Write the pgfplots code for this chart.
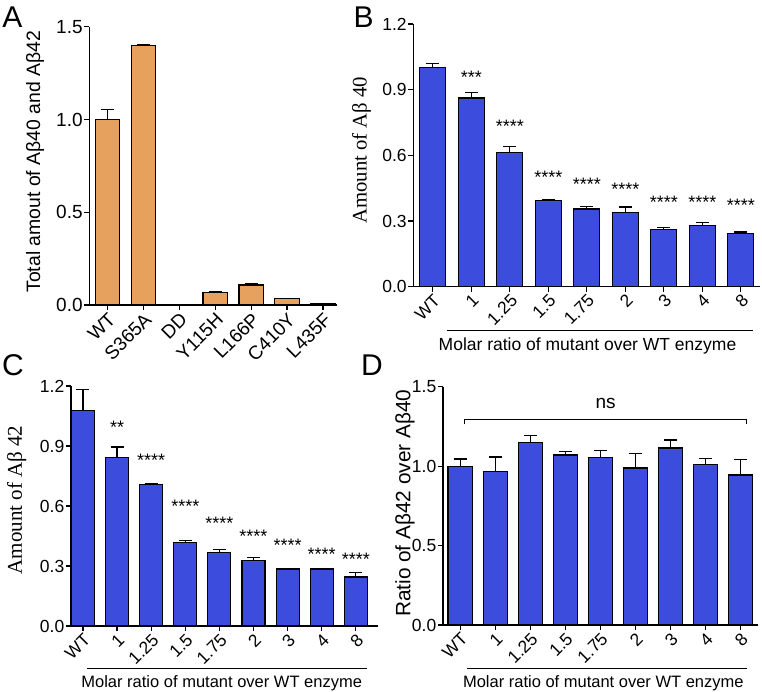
\documentclass[border=0pt]{standalone}
\usepackage{fontspec}
\setmainfont{Liberation Sans}
\newfontfamily\serif{Liberation Serif}
\usepackage{pgfplots}
\pgfplotsset{compat=1.18}
\definecolor{barblue}{RGB}{60,76,220}
\definecolor{barorange}{RGB}{229,161,93}
\newcommand\fA{\fontsize{19}{20}\selectfont}
\newcommand\fT{\fontsize{17.5}{18}\selectfont}
\newcommand\fS{\fontsize{18}{18}\selectfont}
\newcommand\fL{\fontsize{30}{30}\selectfont}
\pgfplotsset{
 panel/.style={
  scale only axis, clip=false, anchor=south west,
  axis x line*=bottom, axis y line*=left,
  axis line style={line width=1.4pt, black},
  tick align=outside, major tick length=5pt,
  tick style={line width=1.2pt, black},
  ymin=0,
  /pgf/number format/assume math mode=true,
  yticklabel style={/pgf/number format/fixed, /pgf/number format/fixed zerofill, /pgf/number format/precision=1, inner sep=1.5pt},
  xticklabel style={rotate=45, anchor=north east, inner sep=1pt},
  ylabel style={anchor=center},
 },
 bars/.style={ybar, bar width=#1, bar shift=0pt, draw=black, line width=1.1pt,
   error bars/y dir=plus, error bars/y explicit,
   error bars/error bar style={line width=1.2pt, black},
   error bars/error mark options={rotate=90, mark size=6.5pt, line width=1.2pt, black}},
 stars/.style={draw=none, mark=none, nodes near coords, point meta=explicit symbolic,
   nodes near coords style={anchor=center, yshift=-3.8pt, font=\fS, inner sep=0pt, black}},
}
\begin{document}
\begin{tikzpicture}
\path[use as bounding box] (0,0) rectangle (762pt,691pt);
% ---------------- A
\begin{axis}[panel, at={(89.3pt,386pt)}, width=247.4pt, height=278.3pt,
  xmin=-0.5, xmax=6.38, ymax=1.5, ytick={0,0.5,1,1.5},
  xtick={0,...,6}, xticklabels={WT,S365A,DD,Y115H,L166P,C410Y,L435F},
  tick label style={font=\fA},
  ylabel={\fontsize{19.4}{20}\selectfont Total amout of Aβ40 and Aβ42},
  ylabel style={at={(axis description cs:-0.2195,0.515)}}]
\addplot[bars=24.3pt, fill=barorange] table[x=x, y=y, y error=e] {
x y e
0 1.000 0.052
1 1.401 0
2 0.003 0
3 0.068 0.002
4 0.108 0.010
5 0.034 0.003
6 0.006 0
};
\end{axis}
% ---------------- B
\begin{axis}[panel, at={(413.3pt,404.3pt)}, width=346.7pt, height=262.7pt,
  xmin=-0.506, xmax=8.5, ymax=1.2, ytick={0,0.3,0.6,0.9,1.2},
  xtick={0,...,8}, xticklabels={WT,1,1.25,1.5,1.75,2,3,4,8},
  tick label style={font=\fT},
  ylabel={\serif\fontsize{20.7}{21}\selectfont Amount of Aβ 40},
  ylabel style={at={(axis description cs:-0.149,0.52)}}]
\addplot[bars=25.7pt, fill=barblue] table[x=x, y=y, y error=e] {
x y e
0 1.000 0.020
1 0.862 0.024
2 0.615 0.025
3 0.395 0.003
4 0.355 0.010
5 0.338 0.026
6 0.262 0.009
7 0.280 0.012
8 0.241 0.009
};
\addplot[stars] table[x=x, y=y, meta=s] {
x y s
1 0.975 ***
2 0.749 ****
3 0.518 ****
4 0.486 ****
5 0.460 ****
6 0.404 ****
7 0.404 ****
8 0.388 ****
};
\end{axis}
% ---------------- C
\begin{axis}[panel, at={(71pt,65pt)}, width=307pt, height=240pt,
  xmin=-0.35, xmax=8.65, ymax=1.2, ytick={0,0.3,0.6,0.9,1.2},
  xtick={0,...,8}, xticklabels={WT,1,1.25,1.5,1.75,2,3,4,8},
  tick label style={font=\fT},
  ylabel={\serif\fontsize{21}{21}\selectfont Amount of Aβ 42},
  ylabel style={at={(axis description cs:-0.177,0.525)}}]
\addplot[bars=23pt, fill=barblue] table[x=x, y=y, y error=e] {
x y e
0 1.077 0.106
1 0.842 0.053
2 0.707 0.004
3 0.418 0.010
4 0.369 0.012
5 0.327 0.016
6 0.285 0.001
7 0.285 0.001
8 0.245 0.022
};
\addplot[stars] table[x=x, y=y, meta=s] {
x y s
1 1.010 **
2 0.845 ****
3 0.618 ****
4 0.533 ****
5 0.467 ****
6 0.420 ****
7 0.376 ****
8 0.354 ****
};
\end{axis}
% ---------------- D
\begin{axis}[panel, at={(443pt,66pt)}, width=315.3pt, height=238.3pt,
  xmin=-0.49, xmax=8.51, ymax=1.5, ytick={0,0.5,1,1.5},
  xtick={0,...,8}, xticklabels={WT,1,1.25,1.5,1.75,2,3,4,8},
  tick label style={font=\fT},
  ylabel={\fontsize{20.8}{21}\selectfont Ratio of Aβ42 over Aβ40},
  ylabel style={at={(axis description cs:-0.1205,0.511)}}]
\addplot[bars=24.3pt, fill=barblue] table[x=x, y=y, y error=e] {
x y e
0 0.997 0.048
1 0.969 0.088
2 1.147 0.045
3 1.070 0.023
4 1.053 0.046
5 0.988 0.092
6 1.114 0.050
7 1.011 0.038
8 0.944 0.099
};
\addplot[black, line width=1.4pt, mark=none] coordinates {(0.13,1.263) (0.13,1.295) (8.18,1.295) (8.18,1.263)};
\node[font=\fontsize{19}{19}\selectfont] at (axis cs:4.15,1.395) {ns};
\end{axis}
% ---------------- group lines and labels
\draw[line width=1.2pt] (446.7pt,360.3pt) -- (753pt,360.3pt);
\node[anchor=base, font=\fontsize{17.5}{18}\selectfont] at (587.5pt,340.3pt) {Molar ratio of mutant over WT enzyme};
\draw[line width=1.2pt] (87.3pt,22.7pt) -- (366.7pt,22.7pt);
\node[anchor=base, font=\fontsize{16.5}{17}\selectfont] at (221.7pt,4pt) {Molar ratio of mutant over WT enzyme};
\draw[line width=1.2pt] (467.3pt,22.7pt) -- (746.7pt,22.7pt);
\node[anchor=base, font=\fontsize{16.5}{17}\selectfont] at (603.3pt,4pt) {Molar ratio of mutant over WT enzyme};
\node[font=\fL] at (12.5pt,673.5pt) {A};
\node[font=\fL] at (363.5pt,673.5pt) {B};
\node[font=\fL] at (13pt,326pt) {C};
\node[font=\fL] at (372pt,326pt) {D};
\end{tikzpicture}
\end{document}
